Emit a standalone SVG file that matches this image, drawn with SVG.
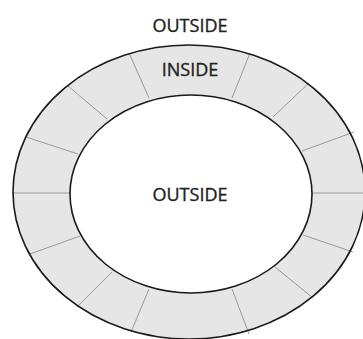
<svg xmlns="http://www.w3.org/2000/svg" width="363" height="339" viewBox="0 0 363 339">
<style>
.ring{fill:#e6e6e6;fill-rule:evenodd;stroke:none}
.edge{fill:none;stroke:#1a1a1a;stroke-width:1.6}
.spoke{stroke:#9a9a9a;stroke-width:1;fill:none}
.lbl{font-family:"Open Sans","Noto Sans","Liberation Sans",sans-serif;font-size:18px;fill:#222;stroke:#222;stroke-width:0.35;text-anchor:middle}
</style>
<rect width="363" height="339" fill="#fff"/>
<g id="ring">
<path class="ring" d="M13,192 A176,147 0 1,0 365,192 A176,147 0 1,0 13,192 Z M70,194 A121,99 0 1,0 312,194 A121,99 0 1,0 70,194 Z"/>
</g>
<g id="spokes">
<line class="spoke" x1="129" y1="53" x2="149" y2="98"/>
<line class="spoke" x1="250" y1="53" x2="232" y2="98"/>
<line class="spoke" x1="68" y1="86" x2="107" y2="119"/>
<line class="spoke" x1="309" y1="83" x2="273" y2="117"/>
<line class="spoke" x1="26" y1="137" x2="78" y2="154"/>
<line class="spoke" x1="354" y1="132" x2="302" y2="151"/>
<line class="spoke" x1="13" y1="193" x2="70" y2="193"/>
<line class="spoke" x1="312" y1="193" x2="363" y2="193"/>
<line class="spoke" x1="30" y1="254" x2="80" y2="236"/>
<line class="spoke" x1="353" y1="252" x2="303" y2="235"/>
<line class="spoke" x1="77" y1="307" x2="112" y2="272"/>
<line class="spoke" x1="313" y1="298" x2="275" y2="267"/>
<line class="spoke" x1="131" y1="332" x2="149" y2="289"/>
<line class="spoke" x1="249" y1="334" x2="232" y2="289"/>
</g>
<g id="edges">
<ellipse class="edge" cx="189" cy="192" rx="176" ry="147"/>
<ellipse class="edge" cx="191" cy="194" rx="121" ry="99"/>
</g>
<g id="labels">
<text class="lbl" x="190" y="32">OUTSIDE</text>
<text class="lbl" x="190" y="76">INSIDE</text>
<text class="lbl" x="190" y="201">OUTSIDE</text>
</g>
</svg>
